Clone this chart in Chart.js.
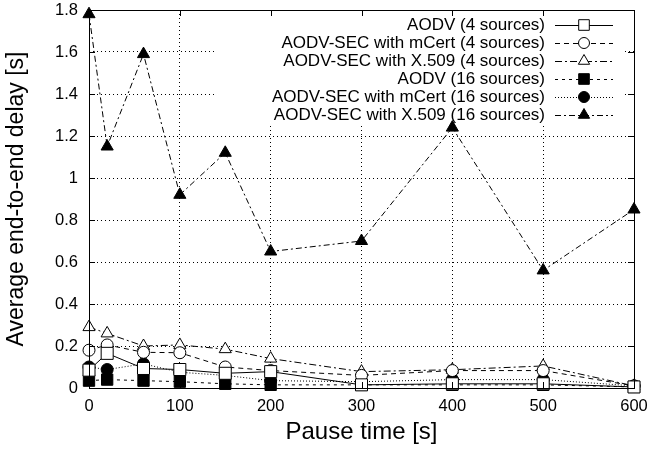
<!DOCTYPE html>
<html>
<head>
<meta charset="utf-8">
<script src="https://cdn.jsdelivr.net/npm/chart.js@4/dist/chart.umd.min.js"></script>
<style>
  html, body { margin: 0; padding: 0; background: #fff; }
  #wrap { width: 650px; height: 451px; }
</style>
</head>
<body>
<div id="wrap"><canvas id="myChart" width="650" height="451"></canvas></div>
<script>
// pause times [s]
const pauseTimes = [0, 20, 60, 100, 150, 200, 300, 400, 500, 600];

const seriesNames = [
    "AODV (4 sources)",
    "AODV-SEC with mCert (4 sources)",
    "AODV-SEC with X.509 (4 sources)",
    "AODV (16 sources)",
    "AODV-SEC with mCert (16 sources)",
    "AODV-SEC with X.509 (16 sources)"
];

// average end-to-end delay [s]
const aodv4   = [0.085, 0.165, 0.093, 0.088, 0.07, 0.078, 0.015, 0.02, 0.02, 0.005];
const mcert4  = [0.18, 0.205, 0.17, 0.168, 0.10, 0.083, 0.06, 0.083, 0.083, 0.01];
const x509_4  = [0.29, 0.26, 0.20, 0.205, 0.185, 0.14, 0.078, 0.087, 0.105, 0.01];
const aodv16  = [0.035, 0.04, 0.035, 0.03, 0.02, 0.015, 0.015, 0.015, 0.015, 0.005];
const mcert16 = [0.10, 0.088, 0.115, 0.075, 0.06, 0.035, 0.03, 0.04, 0.04, 0.01];
const x509_16 = [1.78, 1.15, 1.59, 0.92, 1.12, 0.65, 0.70, 1.24, 0.56, 0.85];

const yTicks = [0, 0.2, 0.4, 0.6, 0.8, 1, 1.2, 1.4, 1.6, 1.8];

const FONT = "'Liberation Sans', Arial, Helvetica, sans-serif";

function pts(values){
    return pauseTimes.map((t, i) => ({x: t, y: values[i]}));
}

function makeSet(i, values, style, radius, dash, filled){
    return {
        label: seriesNames[i],
        data: pts(values),
        borderColor: "#000",
        borderWidth: 1,
        borderDash: dash,
        pointStyle: style,
        pointRadius: radius,
        pointHoverRadius: radius,
        pointBorderColor: "#000",
        pointBackgroundColor: filled ? "#000" : "#fff",
        pointBorderWidth: 1,
        fill: false,
        clip: false,
        tension: 0
    };
}

const datasets = [
    makeSet(0, aodv4, "rect", 8.5, [], false),
    makeSet(1, mcert4, "circle", 6, [5, 4], false),
    makeSet(2, x509_4, "triangle", 7, [7, 3, 2, 3], false),
    makeSet(3, aodv16, "rect", 8, [3, 4], true),
    makeSet(4, mcert16, "circle", 6, [1, 2], true),
    makeSet(5, x509_16, "triangle", 7, [6, 3, 2, 3], true)
];

function drawMarker(ctx, style, x, y, r, filled){
    ctx.save();
    ctx.setLineDash([]);
    ctx.lineWidth = 1;
    ctx.strokeStyle = "#000";
    ctx.fillStyle = filled ? "#000" : "#fff";
    ctx.beginPath();
    if (style === "rect") {
        const s = r * Math.SQRT1_2;
        ctx.rect(x - s, y - s, 2 * s, 2 * s);
    } else if (style === "circle") {
        ctx.arc(x, y, r, 0, Math.PI * 2);
    } else {
        ctx.moveTo(x, y - r);
        ctx.lineTo(x + r * Math.sin(Math.PI / 3), y + r / 2);
        ctx.lineTo(x - r * Math.sin(Math.PI / 3), y + r / 2);
        ctx.closePath();
    }
    ctx.fill();
    ctx.stroke();
    ctx.restore();
}

// legend box inside the plot, gnuplot style
const legendPlugin = {
    id: "gnuLegend",
    beforeDatasetsDraw(chart){
        const ctx = chart.ctx;
        ctx.save();
        ctx.fillStyle = "#fff";
        ctx.fillRect(217, 14, 408, 110);
        ctx.font = "17px " + FONT;
        ctx.textAlign = "right";
        ctx.textBaseline = "middle";
        chart.data.datasets.forEach((ds, i) => {
            const y = 25 + i * 18;
            ctx.fillStyle = "#000";
            ctx.fillText(ds.label, 545, y);
            ctx.strokeStyle = "#000";
            ctx.lineWidth = 1;
            ctx.setLineDash(ds.borderDash);
            ctx.beginPath();
            ctx.moveTo(555, y + 0.5);
            ctx.lineTo(613, y + 0.5);
            ctx.stroke();
            const r = ds.pointStyle === "rect" ? 7.5 : (ds.pointStyle === "circle" ? 5.5 : 6.5);
            drawMarker(ctx, ds.pointStyle, 584, y, r, ds.pointBackgroundColor === "#000");
        });
        ctx.restore();
    },
    afterDraw(chart){
        const ctx = chart.ctx;
        const a = chart.chartArea;
        const xs = chart.scales.x, ys = chart.scales.y;
        ctx.save();
        ctx.strokeStyle = "#000";
        ctx.lineWidth = 1;
        ctx.setLineDash([]);
        ctx.beginPath();
        xs.ticks.forEach(t => {
            const px = Math.round(xs.getPixelForValue(t.value)) + 0.5;
            ctx.moveTo(px, a.bottom); ctx.lineTo(px, a.bottom - 6);
            ctx.moveTo(px, a.top); ctx.lineTo(px, a.top + 6);
        });
        ys.ticks.forEach(t => {
            const py = Math.round(ys.getPixelForValue(t.value)) + 0.5;
            ctx.moveTo(a.left, py); ctx.lineTo(a.left + 6, py);
            ctx.moveTo(a.right, py); ctx.lineTo(a.right - 6, py);
        });
        ctx.stroke();
        ctx.strokeRect(Math.round(a.left) + 0.5, Math.round(a.top) + 0.5,
            Math.round(a.right - a.left), Math.round(a.bottom - a.top));
        ctx.restore();
    }
};

new Chart(document.getElementById("myChart"), {
    type: "line",
    data: { datasets: datasets },
    options: {
        responsive: false,
        animation: false,
        layout: { padding: { top: 10, right: 16, left: 0, bottom: 0 } },
        plugins: {
            legend: { display: false },
            tooltip: { enabled: false }
        },
        scales: {
            x: {
                type: "linear",
                min: 0,
                max: 600,
                afterFit: (scale) => {
                    scale.height = 63;
                    scale.paddingLeft = 0;
                    scale.paddingRight = 0;
                },
                ticks: {
                    stepSize: 100,
                    color: "#000",
                    padding: 9,
                    maxRotation: 0,
                    font: { family: FONT, size: 16.5 }
                },
                grid: { color: "#000", lineWidth: 1, drawTicks: false },
                border: { display: false, dash: [1, 3] },
                title: {
                    display: true,
                    text: "Pause time [s]",
                    color: "#000",
                    font: { family: FONT, size: 24 },
                    padding: { top: 0, bottom: 4 }
                }
            },
            y: {
                type: "linear",
                min: 0,
                max: 1.8,
                afterFit: (scale) => {
                    scale.width = 89;
                    scale.paddingTop = 0;
                    scale.paddingBottom = 0;
                },
                afterBuildTicks: (scale) => {
                    scale.ticks = yTicks.map(v => ({ value: v }));
                },
                ticks: {
                    color: "#000",
                    padding: 11,
                    font: { family: FONT, size: 16.5 },
                    callback: (v) => String(Math.round(v * 10) / 10)
                },
                grid: { color: "#000", lineWidth: 1, drawTicks: false },
                border: { display: false, dash: [1, 3] },
                title: {
                    display: true,
                    text: "Average end-to-end delay [s]",
                    color: "#000",
                    font: { family: FONT, size: 23 },
                    padding: { top: 3, bottom: 0 }
                }
            }
        }
    },
    plugins: [legendPlugin]
});
</script>
</body>
</html>
